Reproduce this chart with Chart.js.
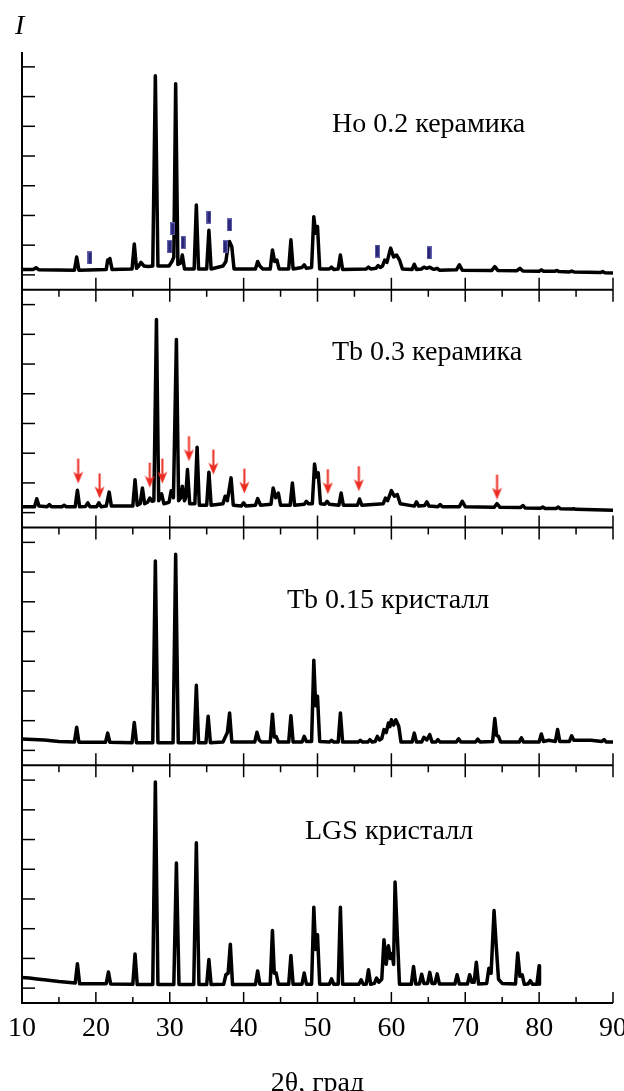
<!DOCTYPE html>
<html lang="ru">
<head>
  <meta charset="UTF-8" />
  <title>XRD patterns</title>
  <script src="https://cdn.jsdelivr.net/npm/chart.js"></script>
  <style>
    body { margin: 0; background: #fff; }
    #wrap { position: relative; width: 624px; height: 1091px; overflow: hidden;
            font-family: "Liberation Serif", "DejaVu Serif", serif; color: #000; }
    #wrap canvas { position: absolute; left: 0; top: 0; }
    .lbl { position: absolute; font-size: 28px; line-height: 28px; white-space: nowrap; }
  </style>
</head>
<body>
  <div id="wrap">
    <canvas id="xrd" width="624" height="1091"></canvas>
    <div class="lbl" style="left:15px;top:11px;font-style:italic">I</div>
    <div class="lbl" style="left:332px;top:109px">Ho 0.2 керамика</div>
    <div class="lbl" style="left:332px;top:337px">Tb 0.3 керамика</div>
    <div class="lbl" style="left:287px;top:585px">Tb 0.15 кристалл</div>
    <div class="lbl" style="left:305px;top:816px">LGS кристалл</div>
  </div>

  <script>
    // axis ticks
    const xTicks = [10, 20, 30, 40, 50, 60, 70, 80, 90];
    const xMinorTicks = [15, 25, 35, 45, 55, 65, 75, 85];
    const yTicks = [0, 1, 2, 3, 4, 5, 6, 7];
    const yRange = [-0.5, 7.5];

    // patterns: [2theta, intensity]
    const ho02 = [[10,0.18],[11.5,0.18],[11.9,0.24],[12.3,0.17],[17.1,0.16],[17.4,0.6],[17.7,0.16],[21.4,0.18],[21.6,0.5],[21.75,0.42],[21.9,0.55],[22.2,0.18],[24.9,0.2],[25.2,1.04],[25.5,0.22],[25.8,0.3],[26.1,0.42],[26.5,0.3],[27.1,0.28],[27.7,0.3],[28.05,6.7],[28.4,0.3],[29.9,0.3],[30.3,0.45],[30.55,0.6],[30.8,6.43],[31.1,0.35],[31.5,0.4],[31.7,0.67],[32.0,0.2],[33.3,0.2],[33.6,2.35],[33.9,0.2],[35.0,0.2],[35.3,1.5],[35.6,0.2],[37.2,0.3],[37.6,0.45],[37.9,1.0],[38.1,1.12],[38.4,0.95],[38.7,0.2],[41.6,0.2],[41.9,0.45],[42.2,0.3],[42.6,0.2],[43.6,0.2],[43.9,0.84],[44.2,0.45],[44.5,0.5],[44.8,0.2],[46.1,0.2],[46.4,1.18],[46.7,0.2],[47.9,0.25],[48.2,0.34],[48.5,0.22],[49.2,0.25],[49.5,1.96],[49.75,1.4],[50.0,1.63],[50.3,0.2],[51.6,0.2],[51.9,0.26],[52.2,0.18],[52.8,0.2],[53.1,0.67],[53.4,0.18],[56.6,0.2],[56.9,0.26],[57.2,0.2],[57.9,0.22],[58.2,0.31],[58.5,0.25],[58.8,0.3],[59.1,0.5],[59.4,0.42],[59.9,0.9],[60.3,0.6],[60.7,0.67],[61.1,0.5],[61.5,0.2],[62.8,0.18],[63.1,0.36],[63.4,0.18],[64.1,0.2],[64.4,0.26],[64.8,0.22],[65.2,0.26],[65.6,0.2],[65.9,0.19],[66.2,0.22],[66.5,0.16],[68.8,0.17],[69.2,0.34],[69.6,0.16],[73.6,0.15],[74.0,0.28],[74.4,0.15],[77.0,0.14],[77.4,0.22],[77.8,0.13],[80.0,0.12],[80.3,0.17],[80.6,0.12],[82.1,0.12],[82.4,0.15],[82.7,0.11],[84.1,0.1],[84.4,0.13],[84.7,0.1],[88.3,0.08],[88.6,0.11],[88.9,0.07],[90,0.06]];

    const tb03 = [[10,0.2],[11.7,0.2],[12.0,0.47],[12.3,0.22],[13.4,0.2],[13.7,0.27],[14.0,0.2],[15.4,0.2],[15.7,0.25],[16.0,0.2],[17.2,0.2],[17.5,0.75],[17.8,0.2],[18.6,0.21],[18.9,0.33],[19.2,0.2],[20.1,0.2],[20.4,0.33],[20.7,0.2],[21.4,0.22],[21.8,0.69],[22.1,0.22],[25.0,0.22],[25.3,1.11],[25.6,0.25],[26.0,0.3],[26.3,0.83],[26.6,0.3],[27.0,0.35],[27.3,0.49],[27.6,0.38],[27.85,0.4],[28.2,6.5],[28.5,0.4],[28.9,0.63],[29.2,0.3],[29.9,0.35],[30.2,0.74],[30.5,0.5],[30.9,5.83],[31.2,0.4],[31.5,0.5],[31.7,0.89],[32.0,0.4],[32.15,0.5],[32.4,1.45],[32.7,0.3],[33.4,0.3],[33.7,2.2],[34.0,0.25],[35.0,0.25],[35.3,1.36],[35.6,0.25],[37.2,0.3],[37.5,0.55],[37.8,0.4],[38.3,1.17],[38.6,0.25],[39.7,0.22],[40.0,0.33],[40.3,0.22],[41.6,0.25],[41.9,0.47],[42.3,0.25],[43.7,0.28],[44.0,0.83],[44.35,0.5],[44.7,0.66],[45.0,0.25],[46.3,0.25],[46.6,1.0],[46.9,0.25],[48.2,0.28],[48.5,0.38],[48.8,0.3],[49.3,0.3],[49.6,1.64],[49.85,1.2],[50.1,1.34],[50.4,0.3],[51.0,0.28],[51.3,0.38],[51.6,0.28],[52.9,0.25],[53.2,0.66],[53.5,0.25],[55.4,0.25],[55.7,0.46],[56.0,0.25],[58.9,0.3],[59.2,0.49],[59.5,0.4],[60.0,0.74],[60.4,0.55],[60.8,0.61],[61.2,0.3],[63.1,0.22],[63.4,0.36],[63.7,0.22],[64.5,0.24],[64.8,0.36],[65.1,0.22],[66.3,0.2],[66.6,0.27],[66.9,0.2],[69.2,0.2],[69.6,0.38],[70.0,0.2],[73.9,0.18],[74.3,0.3],[74.7,0.18],[77.5,0.17],[77.8,0.24],[78.1,0.16],[80.2,0.15],[80.5,0.19],[80.8,0.14],[82.3,0.14],[82.6,0.19],[82.9,0.13],[84.4,0.12],[84.7,0.13],[85.0,0.11],[90,0.08]];

    const tb015 = [[10,0.38],[13,0.35],[15,0.3],[17.1,0.28],[17.4,0.78],[17.7,0.27],[21.3,0.27],[21.6,0.58],[21.9,0.27],[24.9,0.26],[25.2,0.94],[25.5,0.26],[27.7,0.26],[28.05,6.37],[28.4,0.26],[30.45,0.26],[30.8,6.6],[31.15,0.26],[33.3,0.26],[33.6,2.19],[33.9,0.26],[34.9,0.26],[35.2,1.15],[35.5,0.26],[37.2,0.28],[37.5,0.44],[37.8,0.6],[38.1,1.26],[38.4,0.28],[41.5,0.28],[41.8,0.61],[42.1,0.35],[42.4,0.28],[43.6,0.28],[43.9,1.22],[44.15,0.45],[44.4,0.47],[44.7,0.28],[46.1,0.28],[46.4,1.17],[46.7,0.28],[47.9,0.28],[48.2,0.47],[48.5,0.3],[49.2,0.3],[49.5,3.03],[49.75,1.5],[50.0,1.82],[50.3,0.3],[51.6,0.28],[51.9,0.34],[52.2,0.28],[52.8,0.28],[53.1,1.26],[53.4,0.28],[55.5,0.28],[55.8,0.34],[56.1,0.28],[56.8,0.28],[57.1,0.36],[57.4,0.28],[57.8,0.3],[58.1,0.47],[58.4,0.35],[58.7,0.4],[59.0,0.7],[59.3,0.6],[59.6,0.92],[59.8,0.8],[60.0,1.03],[60.3,0.85],[60.6,1.03],[61.0,0.81],[61.3,0.28],[62.8,0.28],[63.1,0.58],[63.4,0.28],[64.1,0.28],[64.4,0.44],[64.8,0.35],[65.2,0.53],[65.5,0.28],[66.0,0.28],[66.3,0.36],[66.6,0.28],[68.8,0.28],[69.1,0.39],[69.4,0.28],[71.4,0.28],[71.7,0.38],[72.0,0.28],[73.7,0.3],[74.0,1.07],[74.25,0.5],[74.5,0.47],[74.8,0.28],[77.3,0.28],[77.6,0.42],[77.9,0.28],[80.0,0.28],[80.3,0.55],[80.6,0.3],[81.3,0.34],[82.2,0.3],[82.5,0.7],[82.8,0.3],[84.1,0.3],[84.4,0.49],[84.7,0.34],[85.5,0.34],[87.0,0.34],[88.5,0.3],[88.8,0.36],[89.1,0.28],[90,0.28]];

    const lgs = [[10,0.36],[11,0.34],[12,0.31],[13,0.28],[15,0.22],[17.2,0.17],[17.5,0.82],[17.8,0.15],[21.4,0.15],[21.7,0.54],[22.0,0.14],[25.0,0.13],[25.3,1.15],[25.6,0.12],[27.7,0.12],[28.05,6.94],[28.4,0.12],[30.55,0.12],[30.9,4.21],[31.25,0.12],[33.25,0.12],[33.6,4.89],[33.95,0.12],[35.0,0.12],[35.3,0.96],[35.6,0.12],[37.3,0.13],[37.6,0.45],[37.9,0.5],[38.2,1.48],[38.5,0.12],[41.6,0.12],[41.9,0.58],[42.2,0.13],[43.6,0.13],[43.9,1.94],[44.15,0.5],[44.4,0.51],[44.7,0.13],[46.1,0.13],[46.4,1.1],[46.7,0.13],[47.9,0.13],[48.2,0.51],[48.5,0.13],[49.2,0.13],[49.5,2.72],[49.75,1.3],[50.0,1.8],[50.3,0.13],[51.6,0.13],[51.9,0.31],[52.2,0.13],[52.8,0.13],[53.1,2.72],[53.4,0.13],[55.6,0.13],[55.9,0.28],[56.2,0.13],[56.6,0.13],[56.9,0.62],[57.2,0.13],[57.7,0.16],[58.0,0.34],[58.3,0.2],[58.7,0.3],[59.0,1.63],[59.3,0.8],[59.6,1.43],[59.85,1.0],[60.1,1.16],[60.3,0.8],[60.5,3.57],[60.8,1.8],[61.1,0.13],[62.7,0.13],[63.0,0.73],[63.3,0.14],[63.8,0.14],[64.1,0.47],[64.4,0.16],[64.9,0.16],[65.2,0.53],[65.5,0.16],[65.9,0.16],[66.2,0.48],[66.5,0.14],[68.6,0.14],[68.9,0.45],[69.2,0.14],[70.3,0.14],[70.6,0.45],[70.9,0.2],[71.2,0.2],[71.5,0.87],[71.8,0.14],[72.9,0.16],[73.2,0.67],[73.5,0.5],[73.9,2.61],[74.2,1.4],[74.5,0.3],[75.0,0.16],[76.8,0.14],[77.1,1.18],[77.4,0.4],[77.7,0.45],[78.0,0.13],[78.5,0.14],[78.8,0.25],[79.1,0.13],[79.7,0.13],[80.0,0.75],[80.05,0.13]];

    // marks above the Ho 0.2 pattern (bar centres) and Tb 0.3 pattern (arrow tips)
    const hoMarks = [[19.2,0.57],[30.0,0.95],[30.4,1.55],[31.8,1.09],[35.3,1.94],[37.5,0.95],[38.1,1.68],[58.1,0.8],[65.1,0.74]];
    const tbArrows = [[17.6,0.98],[20.5,0.48],[27.3,0.84],[29.0,0.98],[32.6,1.73],[35.9,1.28],[40.1,0.64],[51.4,0.62],[55.6,0.72],[74.3,0.44]];

    const patterns = [ho02, tb03, tb015, lgs];

    function makeBar() {
      const c = document.createElement("canvas");
      c.width = 5; c.height = 13;
      const g = c.getContext("2d");
      g.fillStyle = "#6563b0";
      g.fillRect(0, 0, 5, 13);
      g.fillStyle = "#2a2778";
      g.fillRect(1, 1, 3, 11);
      return c;
    }

    function makeArrow() {
      // tip sits at the canvas centre
      const c = document.createElement("canvas");
      c.width = 11; c.height = 52;
      const g = c.getContext("2d");
      g.fillStyle = "#ec2a1f";
      g.fillRect(4.5, 1, 2, 17);
      g.beginPath();
      g.moveTo(5.5, 26);
      g.lineTo(0.5, 14);
      g.lineTo(5.5, 17.5);
      g.lineTo(10.5, 14);
      g.closePath();
      g.fill();
      return c;
    }

    const span = yRange[1] - yRange[0];
    const n = patterns.length;

    const scales = {
      x: {
        type: "linear",
        min: xTicks[0],
        max: xTicks[xTicks.length - 1],
        afterBuildTicks: (s) => { s.ticks = xTicks.map((v) => ({ value: v })); },
        afterFit: (s) => { s.height = 88; s.paddingLeft = 0; s.paddingRight = 0; },
        grid: { display: false, drawTicks: false },
        border: { display: false },
        ticks: {
          color: "#000",
          font: { family: "Liberation Serif", size: 28 },
          padding: 9,
          maxRotation: 0,
          autoSkip: false
        },
        title: {
          display: true,
          text: "2θ, град",
          color: "#000",
          font: { family: "Liberation Serif", size: 28, lineHeight: 0.5 },
          padding: { top: 0, bottom: 0 }
        }
      }
    };
    // one y scale per panel, each panel takes a quarter of the height
    patterns.forEach((_, i) => {
      scales["y" + i] = {
        type: "linear",
        display: false,
        min: yRange[0] - (n - 1 - i) * span,
        max: yRange[1] + i * span
      };
    });

    function seg(ctx, x1, y1, x2, y2) {
      ctx.beginPath();
      ctx.moveTo(x1, y1);
      ctx.lineTo(x2, y2);
      ctx.stroke();
    }

    // frame, separators and inward ticks for every panel
    const panelAxes = {
      id: "panelAxes",
      beforeDatasetsDraw(chart) {
        const { ctx } = chart;
        const x = chart.scales.x;
        const x0 = x.getPixelForValue(xTicks[0]);
        const x1 = x.getPixelForValue(xTicks[xTicks.length - 1]);
        const top = chart.scales.y0.getPixelForValue(yRange[1]);
        const bottom = chart.scales["y" + (n - 1)].getPixelForValue(yRange[0]);
        ctx.save();
        ctx.strokeStyle = "#000";
        ctx.lineWidth = 2;
        seg(ctx, x0, top, x0, bottom);
        patterns.forEach((_, i) => {
          const ys = chart.scales["y" + i];
          const yb = ys.getPixelForValue(yRange[0]);
          const last = i === n - 1;
          ctx.lineWidth = 2;
          seg(ctx, x0 - 1, yb, x1, yb);
          ctx.lineWidth = 1.5;
          yTicks.forEach((v) => {
            const py = ys.getPixelForValue(v);
            seg(ctx, x0, py, x0 + 13, py);
          });
          xTicks.forEach((v) => {
            const px = x.getPixelForValue(v);
            if (last) seg(ctx, px, yb - 11, px, yb);
            else seg(ctx, px, yb - 12, px, yb + 12);
          });
          xMinorTicks.forEach((v) => {
            const px = x.getPixelForValue(v);
            if (last) seg(ctx, px, yb - 6, px, yb);
            else seg(ctx, px, yb, px, yb + 7);
          });
        });
        ctx.restore();
      }
    };

    const datasets = patterns.map((data, i) => ({
      type: "line",
      data: data,
      xAxisID: "x",
      yAxisID: "y" + i,
      borderColor: "#000",
      borderWidth: 3.5,
      borderJoinStyle: "round",
      borderCapStyle: "round",
      pointRadius: 0,
      tension: 0,
      fill: false,
      order: 2
    }));

    datasets.push({
      type: "line",
      data: hoMarks,
      xAxisID: "x",
      yAxisID: "y0",
      showLine: false,
      pointStyle: makeBar(),
      pointRadius: 6,
      order: 0
    });
    datasets.push({
      type: "line",
      data: tbArrows,
      xAxisID: "x",
      yAxisID: "y1",
      showLine: false,
      pointStyle: makeArrow(),
      pointRadius: 6,
      order: 0
    });

    new Chart(document.getElementById("xrd"), {
      type: "line",
      data: { datasets },
      options: {
        responsive: false,
        animation: false,
        devicePixelRatio: 1,
        events: [],
        layout: { padding: { left: 22, right: 11, top: 52, bottom: 0 } },
        scales,
        plugins: { legend: { display: false }, tooltip: { enabled: false } }
      },
      plugins: [panelAxes]
    });
  </script>
</body>
</html>
